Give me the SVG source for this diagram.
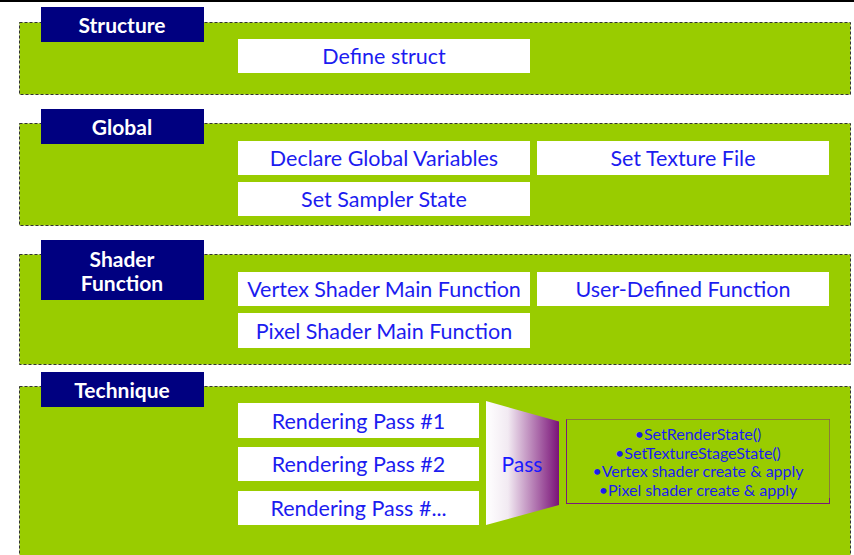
<svg xmlns="http://www.w3.org/2000/svg" width="854" height="555" viewBox="0 0 854 555">
<defs>
<linearGradient id="passGrad" x1="0" y1="0" x2="1" y2="0">
<stop offset="0" stop-color="#ffffff"/>
<stop offset="0.3" stop-color="#f2eaf2"/>
<stop offset="1" stop-color="#7a1278"/>
</linearGradient>
<style>
.panel{fill:#99cc00;stroke:#333333;stroke-width:1;stroke-dasharray:3 2}
.lbl{fill:#000080}
.lbltxt{fill:#ffffff;font-family:Lato,"Noto Sans",sans-serif;font-weight:bold;font-size:21px;text-anchor:middle;dominant-baseline:central}
.box{fill:#ffffff}
.txt{fill:#1c1cf0;font-family:Lato,"Noto Sans",sans-serif;font-size:21.5px;text-anchor:middle;dominant-baseline:central}
.small{fill:#1c1cf0;font-family:Lato,"Noto Sans",sans-serif;font-size:16px;text-anchor:middle;dominant-baseline:central}
</style>
</defs>
<rect x="0" y="0" width="854" height="555" fill="#ffffff"/>
<rect x="0" y="0" width="854" height="2" fill="#000000"/>

<g id="structure">
<rect class="panel" x="19.5" y="22.5" width="831" height="72"/>
<rect class="lbl" x="41" y="7" width="163" height="35"/>
<text class="lbltxt" x="122" y="24.5">Structure</text>
</g>
<g id="define-struct">
<rect class="box" x="238" y="39" width="292" height="34"/>
<text class="txt" x="384" y="56">Define struct</text>
</g>

<g id="global">
<rect class="panel" x="19.5" y="123.5" width="831" height="102"/>
<rect class="lbl" x="41" y="109" width="163" height="35"/>
<text class="lbltxt" x="122" y="126.5">Global</text>
</g>
<g id="declare-global">
<rect class="box" x="238" y="141" width="292" height="34"/>
<text class="txt" x="384" y="158">Declare Global Variables</text>
</g>
<g id="set-texture">
<rect class="box" x="537" y="141" width="292" height="34"/>
<text class="txt" x="683" y="158">Set Texture File</text>
</g>
<g id="set-sampler">
<rect class="box" x="238" y="182" width="292" height="34"/>
<text class="txt" x="384" y="199">Set Sampler State</text>
</g>

<g id="shader">
<rect class="panel" x="19.5" y="254.5" width="831" height="110"/>
<rect class="lbl" x="41" y="240" width="163" height="60"/>
<text class="lbltxt" x="122" y="258">Shader</text>
<text class="lbltxt" x="122" y="282">Function</text>
</g>
<g id="vertex-main">
<rect class="box" x="238" y="272" width="292" height="34"/>
<text class="txt" x="384" y="289">Vertex Shader Main Function</text>
</g>
<g id="user-defined">
<rect class="box" x="537" y="272" width="292" height="34"/>
<text class="txt" x="683" y="289">User-Defined Function</text>
</g>
<g id="pixel-main">
<rect class="box" x="238" y="313" width="292" height="35"/>
<text class="txt" x="384" y="330.5">Pixel Shader Main Function</text>
</g>

<g id="technique">
<rect class="panel" x="19.5" y="386.5" width="831" height="180"/>
<rect class="lbl" x="41" y="372" width="163" height="35"/>
<text class="lbltxt" x="122" y="389.5">Technique</text>
</g>
<g id="pass1">
<rect class="box" x="238" y="403" width="241" height="35"/>
<text class="txt" x="358.5" y="420.5">Rendering Pass #1</text>
</g>
<g id="pass2">
<rect class="box" x="238" y="447" width="241" height="34"/>
<text class="txt" x="358.5" y="464">Rendering Pass #2</text>
</g>
<g id="pass3">
<rect class="box" x="238" y="491" width="241" height="34"/>
<text class="txt" x="358.5" y="508">Rendering Pass #...</text>
</g>
<g id="pass">
<polygon points="486,401 559,421.5 559,505 486,525" fill="url(#passGrad)"/>
<text class="txt" x="522" y="463" style="font-size:21px;fill:#1a1aff">Pass</text>
</g>
<g id="pass-details">
<rect x="566.5" y="419.5" width="263" height="84" fill="none" stroke="#7b1a7b" stroke-width="1"/>
<polyline points="566.5,419.5 829.5,419.5 829.5,498" fill="none" stroke="#8a7a3a" stroke-width="1"/>
<text class="small" x="698" y="433.5">•SetRenderState()</text>
<text class="small" x="698" y="452">•SetTextureStageState()</text>
<text class="small" x="698" y="470.5">•Vertex shader create &amp; apply</text>
<text class="small" x="698" y="489">•Pixel shader create &amp; apply</text>
</g>
<g id="connectors"></g>
</svg>
